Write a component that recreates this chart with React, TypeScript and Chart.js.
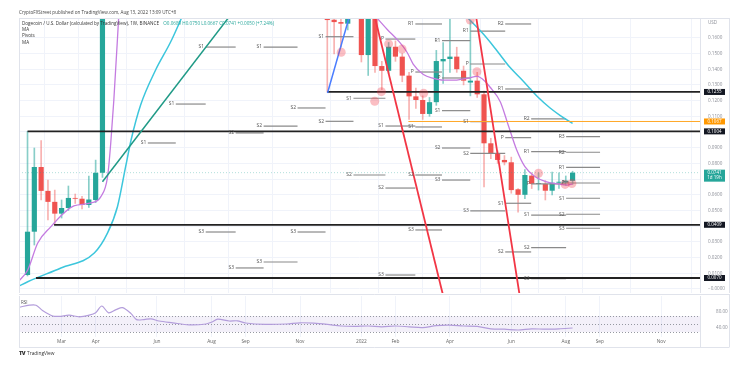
import React, { useEffect, useRef } from "react";
import { Chart, registerables } from "chart.js";
Chart.register(...registerables);

// ---------------- data ----------------
// week index 0 = week of 25 Jan 2021 (weekly candles); weeks 12-43 and 48 lie above the visible range
const candleWeek = [0,1,2,3,4,5,6,7,8,9,10,11,44,45,46,47,49,50,51,52,53,54,55,56,57,58,59,60,61,62,63,64,65,66,67,68,69,70,71,72,73,74,75,76,77,78,79,80];
const candleOpen = [0.0089,0.0365,0.0777,0.0625,0.0555,0.048,0.0516,0.058,0.0575,0.0535,0.0567,0.074,0.21,0.1715,0.17,0.169,0.18,0.149,0.183,0.142,0.139,0.1543,0.148,0.1359,0.1227,0.1204,0.1115,0.119,0.145,0.1465,0.148,0.139,0.1315,0.1327,0.124,0.0928,0.086,0.0822,0.0807,0.0635,0.06,0.0722,0.0669,0.0669,0.0626,0.0677,0.0677,0.0689];
const candleHigh = [0.1004,0.0898,0.0945,0.0694,0.063,0.0567,0.0656,0.0605,0.059,0.072,0.0821,0.45,0.23,0.185,0.18,0.195,0.19,0.2,0.19,0.145,0.157,0.158,0.15,0.138,0.128,0.123,0.122,0.152,0.157,0.176,0.154,0.142,0.171,0.138,0.126,0.096,0.088,0.085,0.084,0.064,0.076,0.074,0.074,0.069,0.0745,0.074,0.072,0.075];
const candleLow = [0.0083,0.028,0.0567,0.044,0.041,0.0452,0.05,0.0545,0.051,0.052,0.055,0.071,0.1255,0.1497,0.154,0.165,0.1446,0.136,0.138,0.127,0.137,0.145,0.132,0.108,0.115,0.108,0.11,0.117,0.131,0.138,0.138,0.13,0.123,0.122,0.065,0.083,0.08,0.079,0.061,0.049,0.0575,0.064,0.063,0.0567,0.06,0.064,0.066,0.0667];
const candleClose = [0.0365,0.0777,0.0625,0.0555,0.048,0.0516,0.058,0.0575,0.0535,0.057,0.074,0.31,0.1713,0.17,0.169,0.18,0.149,0.183,0.142,0.139,0.1543,0.148,0.1359,0.1227,0.1204,0.1115,0.119,0.1452,0.1465,0.148,0.14,0.1327,0.1327,0.124,0.0928,0.086,0.0822,0.0807,0.063,0.06,0.0726,0.0669,0.0675,0.0626,0.0677,0.0683,0.069,0.0741];

const monthTickWeek = [5,10,19,27,32,40,49,54,62,71,79,84,93];
const monthLabels = ["Mar","Apr","Jun","Aug","Sep","Nov","2022","Feb","Apr","Jun","Aug","Sep","Nov"];

const priceTicks = [0.16,0.15,0.14,0.13,0.12,0.11,0.10,0.09,0.08,0.07,0.06,0.05,0.04,0.03,0.02,0.01,0];
const priceTicksHidden = [0.10,0.07,0.04];

// moving averages (two visible stretches each)
const maPurpleAW = [-1.25,0.03,1.5,3.44,5.35,6.8,9.3,10.77,11.75,12.2,12.67,13.4];
const maPurpleAV = [0.0051,0.0121,0.0293,0.0397,0.0484,0.0529,0.0548,0.0588,0.0715,0.092,0.1204,0.1745];
const maPurpleBW = [50.9,52.8,54.4,55.7,56.6,58.1,59.6,61.0,63.0,64.5,66.0,67.2,67.9,69.4,70.5,71.8,73.0,74.5,76.2,77.9,79.2,80.0];
const maPurpleBV = [0.1745,0.1653,0.1582,0.1508,0.1433,0.1366,0.1342,0.1331,0.1331,0.1342,0.1354,0.132,0.1285,0.1191,0.1051,0.0885,0.0779,0.0715,0.0683,0.0669,0.0662,0.0670];
const maCyanAW = [-1.25,0.03,4.9,9.8,11.75,13.2,14.4,15.2,16.6,18.8,21.0,22.8];
const maCyanAV = [0.0019,0.0046,0.0134,0.0229,0.0357,0.0524,0.0779,0.0949,0.1172,0.1395,0.1573,0.1745];
const maCyanBW = [64.2,66.9,68.9,70.8,72.7,74.9,76.7,78.2,80.0];
const maCyanBV = [0.1745,0.1624,0.1518,0.1412,0.1327,0.1223,0.1153,0.1105,0.1055];

// drawn trend lines [fromWeek, fromValue, toWeek, toValue]
const tealLine = [11.0,0.0683,29.8,0.1745];
const blueLine = [44.03,0.1248,47.3,0.1745];
const redLine1 = [50.9,0.1745,61.1,-0.006];
const redLine2 = [65.8,0.1745,72.3,-0.006];

// horizontal levels
const levelFromWeek = [44.0,0.0,3.9,1.25];
const levelValue = [0.1255,0.1004,0.0409,0.0070];
const orangeFromWeek = 55.9;
const orangeValue = 0.1067;
const lastPrice = 0.0741;

// circle markers
const circleW = [46.04,50.96,51.94,53.0,54.97,58.14,64.98,65.96,75.0,78.9,79.9];
const circleV = [0.1508,0.1196,0.1257,0.1561,0.1529,0.1247,0.1713,0.1384,0.0737,0.0666,0.0672];

// monthly pivots
const pivotLabel = ["S1","S1","S1","S3","S2","S3","S1","S2","S3","S2","S3","S1","S2","S1","S2","P","S1","S2","S3","R1","P","S1","S2","S3","R1","P","S1","S2","S3","R1","P","S1","S2","S3","R2","R1","P","S1","S2","R2","R1","P","S1","S2","S3","R3","R2","R1","P","S1","S2","S3"];
const pivotFrom = [17.66,21.76,26.15,26.15,30.55,30.55,34.65,34.65,34.65,39.63,39.63,43.74,43.74,47.84,47.84,52.53,52.53,52.53,52.53,56.92,56.92,56.92,56.92,56.92,60.83,60.83,60.83,60.83,60.83,64.98,64.98,64.98,64.98,64.98,70.11,70.11,70.11,70.11,70.11,73.92,73.92,73.92,73.92,73.92,73.92,79.05,79.05,79.05,79.05,79.05,79.05,79.05];
const pivotTo = [21.76,26.15,30.55,30.55,34.65,34.65,39.63,39.63,39.63,43.74,43.74,47.84,47.84,52.53,52.53,56.92,56.92,56.92,56.92,60.83,60.83,60.83,60.83,60.83,64.98,64.98,64.98,64.98,64.98,70.11,70.11,70.11,70.11,70.11,73.92,73.92,73.92,73.92,73.92,79.05,79.05,79.05,79.05,79.05,79.05,84.03,84.03,84.03,84.03,84.03,84.03,84.03];
const pivotValue = [0.093,0.1178,0.1541,0.0363,0.0994,0.0134,0.1541,0.1038,0.0172,0.1153,0.0363,0.1607,0.1068,0.1215,0.0726,0.1592,0.1038,0.0643,0.0089,0.1688,0.1382,0.1032,0.0726,0.0376,0.1582,0.1344,0.1136,0.0898,0.0694,0.1643,0.1433,0.1066,0.0864,0.0497,0.1688,0.1274,0.0964,0.0546,0.0236,0.1083,0.0875,0.0669,0.0471,0.0263,0.0066,0.097,0.0871,0.0775,0.0675,0.0578,0.0476,0.0387];

// axis price boxes
const boxValue = [0.1255,0.1067,0.1004,0.0741,0.0409,0.0070];
const boxText = ["0.1255","0.1067","0.1004","0.0741","0.0409","0.0070"];
const boxSub = ["","","","1d 19h","",""];

// RSI
const rsiWeek = [-1.2,0.26,1.25,2.2,3.7,4.66,6.1,7.6,9.05,10.0,10.9,11.9,13.0,13.95,15.2,16.0,17.1,18.1,19.3,21.3,23.7,26.2,27.1,27.9,29.6,30.8,32.0,34.9,38,40,42,44,46,48,50,52,54,56,58,60,62,64,66,68,70,72,74,76,78,80];
const rsiValue = [92,97,97,84,70,69,72,68,72,78,95,78,86,91,76,61,61,63,57.5,53,48,50,55,62,57.5,58,52.5,49,50,53,52,49,45,44,45,43,45,43,41,46,47,45,44,38,37,35,38,37,38,40];
const rsiBands = [70,50,30];
const rsiTicks = [80,40];

// ---------------- styles ----------------
const GREEN = "#26a69a";
const RED = "#ef5350";
const W_MIN = -1.25;
const W_MAX = 98.7;
const FONT = "'Open Sans', 'DejaVu Sans', sans-serif";

const seg = (a: number[]) => [{ x: a[0], y: a[1] }, { x: a[2], y: a[3] }];
const pts = (w: number[], v: number[]) => w.map((x, i) => ({ x, y: v[i] }));
const noPadY = (s: any) => {
  s.width = 29;
  s.paddingTop = 0;
  s.paddingBottom = 0;
};

const framePlugin = {
  id: "frame",
  afterDraw(chart: any) {
    const { ctx, chartArea } = chart;
    ctx.save();
    ctx.strokeStyle = "#e0e3eb";
    ctx.lineWidth = 1;
    ctx.beginPath();
    ctx.moveTo(chartArea.left + 0.5, chartArea.top);
    ctx.lineTo(chartArea.left + 0.5, chartArea.bottom);
    ctx.moveTo(chartArea.right + 0.5, chartArea.top);
    ctx.lineTo(chartArea.right + 0.5, chartArea.bottom);
    ctx.moveTo(729.5, chartArea.top);
    ctx.lineTo(729.5, chartArea.bottom);
    ctx.stroke();
    ctx.restore();
  },
};

const pivotTextPlugin = {
  id: "pivotText",
  afterDatasetsDraw(chart: any) {
    const { ctx, scales, chartArea } = chart;
    ctx.save();
    ctx.beginPath();
    ctx.rect(chartArea.left, chartArea.top, chartArea.right - chartArea.left, chartArea.bottom - chartArea.top);
    ctx.clip();
    ctx.font = `5px ${FONT}`;
    ctx.fillStyle = "#555";
    ctx.textAlign = "right";
    ctx.textBaseline = "middle";
    pivotLabel.forEach((t, i) => {
      const x = scales.x.getPixelForValue(pivotFrom[i]) - 1.5;
      const y = scales.y.getPixelForValue(pivotValue[i]);
      ctx.fillText(t, x, y);
    });
    ctx.restore();
  },
};

const boxPlugin = {
  id: "boxes",
  afterDraw(chart: any) {
    const { ctx, scales } = chart;
    const ys = scales.y;
    ctx.save();
    ctx.font = `4.5px ${FONT}`;
    ctx.textAlign = "center";
    ctx.textBaseline = "middle";
    boxValue.forEach((v, i) => {
      const y = ys.getPixelForValue(v);
      const isLast = v === lastPrice;
      const isOrange = v === orangeValue;
      const h = isLast ? 12 : 6;
      ctx.fillStyle = isLast ? GREEN : isOrange ? "#ff9800" : "#131722";
      ctx.fillRect(ys.left + 4, y - 3, 21, h);
      ctx.fillStyle = "#fff";
      ctx.fillText(boxText[i], ys.left + 14.5, y);
      if (boxSub[i]) ctx.fillText(boxSub[i], ys.left + 14.5, y + 5.5);
    });
    ctx.restore();
  },
};

function mainConfig(): any {
  const colors = candleWeek.map((_, i) => (candleClose[i] >= candleOpen[i] ? GREEN : RED));
  const line = (data: any[], color: string, width: number, order: number, extra: any = {}) => ({
    type: "line",
    data,
    borderColor: color,
    borderWidth: width,
    pointRadius: 0,
    fill: false,
    order,
    ...extra,
  });
  const datasets: any[] = [
    {
      type: "bar",
      data: candleWeek.map((x, i) => ({ x, y: [candleOpen[i], candleClose[i]] })),
      backgroundColor: colors,
      borderWidth: 0,
      barPercentage: 0.76,
      categoryPercentage: 1,
      grouped: false,
      order: 20,
    },
    {
      type: "bar",
      data: candleWeek.map((x, i) => ({ x, y: [candleLow[i], candleHigh[i]] })),
      backgroundColor: colors.map((c) => (c === GREEN ? "rgba(38,166,154,0.55)" : "rgba(239,83,80,0.45)")),
      borderWidth: 0,
      barThickness: 1,
      grouped: false,
      order: 21,
    },
    line([{ x: W_MIN, y: lastPrice }, { x: W_MAX, y: lastPrice }], "rgba(38,166,154,0.35)", 1, 19, { borderDash: [1, 2] }),
  ];
  pivotLabel.forEach((_, i) => {
    datasets.push(line([{ x: pivotFrom[i], y: pivotValue[i] }, { x: pivotTo[i], y: pivotValue[i] }], "#8a8a8a", 1.2, 15));
  });
  datasets.push(
    line(pts(maPurpleAW, maPurpleAV), "#c47be0", 1.3, 8, { cubicInterpolationMode: "monotone" }),
    line(pts(maPurpleBW, maPurpleBV), "#c47be0", 1.3, 8, { cubicInterpolationMode: "monotone" }),
    line(pts(maCyanAW, maCyanAV), "#3cc6dc", 1.5, 8, { cubicInterpolationMode: "monotone" }),
    line(pts(maCyanBW, maCyanBV), "#3cc6dc", 1.5, 8, { cubicInterpolationMode: "monotone" }),
  );
  levelValue.forEach((v, i) => {
    datasets.push(line([{ x: levelFromWeek[i], y: v }, { x: W_MAX, y: v }], "#222", 1.8, 5));
  });
  datasets.push(
    line([{ x: orangeFromWeek, y: orangeValue }, { x: W_MAX, y: orangeValue }], "#ffa726", 1, 5),
    line(seg(tealLine), "#1f9a86", 1.5, 4),
    line(seg(blueLine), "#4a7dff", 1.5, 4),
    line(seg(redLine1), "#f23645", 1.8, 4),
    line(seg(redLine2), "#f23645", 1.8, 4),
    {
      type: "scatter",
      data: pts(circleW, circleV),
      pointRadius: 4.5,
      pointBackgroundColor: "rgba(242,54,69,0.32)",
      pointBorderWidth: 0,
      order: 3,
    },
  );
  return {
    type: "bar",
    data: { datasets },
    plugins: [framePlugin, pivotTextPlugin, boxPlugin],
    options: {
      animation: false,
      responsive: true,
      maintainAspectRatio: false,
      events: [],
      layout: { autoPadding: false, padding: { left: 19, top: 18, right: 21, bottom: 3 } },
      plugins: { legend: { display: false }, tooltip: { enabled: false } },
      scales: {
        x: {
          type: "linear",
          min: W_MIN,
          max: W_MAX,
          offset: false,
          afterBuildTicks: (s: any) => {
            s.ticks = monthTickWeek.map((value) => ({ value }));
          },
          afterFit: (s: any) => {
            s.height = 0;
            s.paddingLeft = 0;
            s.paddingRight = 0;
          },
          ticks: { display: false },
          grid: { color: "#f0f3fa", drawTicks: false },
          border: { display: false },
        },
        y: {
          type: "linear",
          position: "right",
          min: -0.00255,
          max: 0.17261,
          afterBuildTicks: (s: any) => {
            s.ticks = priceTicks.map((value) => ({ value }));
          },
          afterFit: noPadY,
          ticks: {
            padding: 8,
            color: "#8a8d96",
            font: { size: 4.6, family: FONT },
            callback: (v: number) => {
              if (priceTicksHidden.some((h) => Math.abs(h - v) < 1e-9)) return "";
              return v === 0 ? "\u22120.0000" : v.toFixed(4);
            },
          },
          grid: { color: "#f0f3fa", drawTicks: false },
          border: { display: false },
        },
      },
    },
  };
}

const bandPlugin = {
  id: "band",
  beforeDatasetsDraw(chart: any) {
    const { ctx, scales, chartArea } = chart;
    const y = scales.y;
    const top = y.getPixelForValue(rsiBands[0]);
    const bot = y.getPixelForValue(rsiBands[2]);
    ctx.save();
    ctx.fillStyle = "rgba(126,87,194,0.09)";
    ctx.fillRect(chartArea.left, top, chartArea.right - chartArea.left, bot - top);
    ctx.strokeStyle = "#9598a1";
    ctx.lineWidth = 1;
    ctx.setLineDash([1, 2]);
    rsiBands.forEach((b) => {
      const p = Math.round(y.getPixelForValue(b)) + 0.5;
      ctx.beginPath();
      ctx.moveTo(chartArea.left, p);
      ctx.lineTo(chartArea.right, p);
      ctx.stroke();
    });
    ctx.restore();
  },
  afterDraw(chart: any) {
    const { ctx, chartArea } = chart;
    ctx.save();
    ctx.strokeStyle = "#e0e3eb";
    ctx.lineWidth = 1;
    ctx.beginPath();
    ctx.moveTo(chartArea.left, chartArea.top - 1.5);
    ctx.lineTo(729.5, chartArea.top - 1.5);
    ctx.moveTo(chartArea.left + 0.5, chartArea.top);
    ctx.lineTo(chartArea.left + 0.5, chartArea.bottom + 10);
    ctx.moveTo(chartArea.right + 0.5, chartArea.top);
    ctx.lineTo(chartArea.right + 0.5, chartArea.bottom + 10);
    ctx.moveTo(729.5, chartArea.top - 2);
    ctx.lineTo(729.5, chartArea.bottom + 10);
    ctx.moveTo(chartArea.left, chartArea.bottom + 10.5);
    ctx.lineTo(729.5, chartArea.bottom + 10.5);
    ctx.stroke();
    ctx.font = `4.5px ${FONT}`;
    ctx.fillStyle = "#555";
    ctx.textBaseline = "middle";
    ctx.fillText("RSI", chartArea.left + 2, chartArea.top + 7);
    ctx.restore();
  },
};

function rsiConfig(): any {
  return {
    type: "line",
    data: {
      datasets: [
        {
          data: pts(rsiWeek, rsiValue),
          borderColor: "#b39ddb",
          borderWidth: 1.2,
          pointRadius: 0,
          tension: 0.3,
        },
      ],
    },
    plugins: [bandPlugin],
    options: {
      animation: false,
      responsive: true,
      maintainAspectRatio: false,
      events: [],
      layout: { autoPadding: false, padding: { left: 19, top: 3, right: 21, bottom: 0 } },
      plugins: { legend: { display: false }, tooltip: { enabled: false } },
      scales: {
        x: {
          type: "linear",
          min: W_MIN,
          max: W_MAX,
          afterBuildTicks: (s: any) => {
            s.ticks = monthTickWeek.map((value) => ({ value }));
          },
          afterFit: (s: any) => {
            s.height = 13;
            s.paddingLeft = 0;
            s.paddingRight = 0;
          },
          ticks: {
            padding: 2,
            maxRotation: 0,
            autoSkip: false,
            color: "#666",
            font: { size: 4.8, family: FONT },
            callback: (_v: number, i: number) => monthLabels[i],
          },
          grid: { color: "#f0f3fa", drawTicks: false },
          border: { display: false },
        },
        y: {
          type: "linear",
          position: "right",
          min: 17.5,
          max: 120,
          afterBuildTicks: (s: any) => {
            s.ticks = rsiTicks.map((value) => ({ value }));
          },
          afterFit: noPadY,
          ticks: {
            padding: 8,
            color: "#8a8d96",
            font: { size: 4.6, family: FONT },
            callback: (v: number) => v.toFixed(2),
          },
          grid: { display: false },
          border: { display: false },
        },
      },
    },
  };
}

export default function App() {
  const mainRef = useRef<HTMLCanvasElement>(null);
  const rsiRef = useRef<HTMLCanvasElement>(null);
  useEffect(() => {
    const main = new Chart(mainRef.current as HTMLCanvasElement, mainConfig());
    const rsi = new Chart(rsiRef.current as HTMLCanvasElement, rsiConfig());
    return () => {
      main.destroy();
      rsi.destroy();
    };
  }, []);
  const txt = (s: any) => ({ position: "absolute" as const, whiteSpace: "nowrap" as const, lineHeight: 1, ...s });
  return (
    <div style={{ position: "fixed", left: 0, top: 0, width: 750, height: 384, background: "#fff", fontFamily: FONT, overflow: "hidden" }}>
      <div style={{ position: "absolute", left: 0, top: 0, width: 750, height: 296 }}>
        <canvas ref={mainRef} />
      </div>
      <div style={{ position: "absolute", left: 0, top: 293, width: 750, height: 57 }}>
        <canvas ref={rsiRef} />
      </div>
      <div style={txt({ left: 19, top: 9.5, fontSize: 4.6, color: "#444" })}>
        CryptoFXStreet published on TradingView.com, Aug 13, 2022 13:09 UTC+8
      </div>
      <div style={{ position: "absolute", left: 19, top: 18, width: 710, height: 0, borderTop: "1px solid #e0e3eb" }} />
      <div style={txt({ left: 22, top: 21, fontSize: 4.6, color: "#333" })}>
        Dogecoin / U.S. Dollar (calculated by TradingView), 1W, BINANCE{" "}
        <span style={{ color: GREEN, marginLeft: 3 }}>O0.0689 H0.0750 L0.0667 C0.0741 +0.0050 (+7.24%)</span>
      </div>
      <div style={txt({ left: 22, top: 27, fontSize: 4.6, color: "#333" })}>MA</div>
      <div style={txt({ left: 22, top: 33, fontSize: 4.6, color: "#333" })}>Pivots</div>
      <div style={txt({ left: 22, top: 39.5, fontSize: 4.6, color: "#333" })}>MA</div>
      <div style={txt({ left: 708, top: 20, fontSize: 4.6, color: "#8a8d96" })}>USD</div>
      <div style={txt({ left: 19, top: 351, fontSize: 4.8, color: "#333", display: "flex", alignItems: "center" })}>
        <span style={{ fontWeight: 900, fontSize: 5.5, marginRight: 2, letterSpacing: -0.5 }}>TV</span>TradingView
      </div>
    </div>
  );
}
